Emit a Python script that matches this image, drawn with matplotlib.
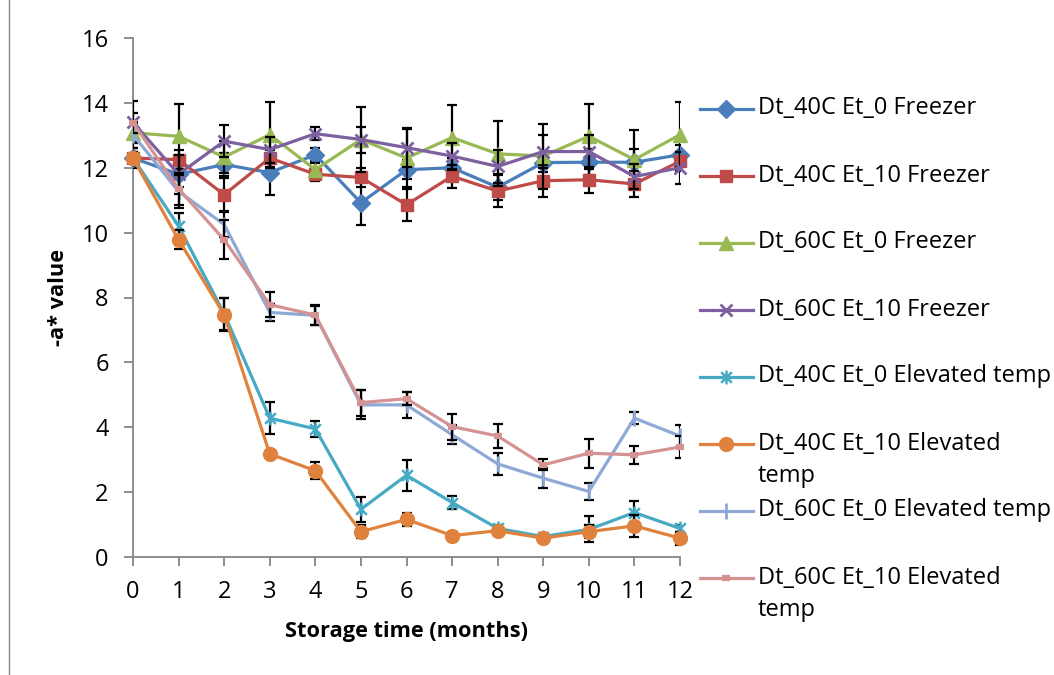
import matplotlib
matplotlib.use("Agg")
import matplotlib.pyplot as plt
from matplotlib.lines import Line2D
from matplotlib.path import Path

months = list(range(13))

labels = [
    "Dt_40C Et_0 Freezer",
    "Dt_40C Et_10 Freezer",
    "Dt_60C Et_0 Freezer",
    "Dt_60C Et_10 Freezer",
    "Dt_40C Et_0 Elevated temp",
    "Dt_40C Et_10 Elevated\ntemp",
    "Dt_60C Et_0 Elevated temp",
    "Dt_60C Et_10 Elevated\ntemp",
]

dt40_et0_frz = [12.3, 11.8, 12.1, 11.85, 12.4, 10.92, 11.94, 12.0, 11.4, 12.16, 12.17, 12.17, 12.4]
dt40_et10_frz = [12.3, 12.25, 11.17, 12.3, 11.8, 11.7, 10.86, 11.74, 11.28, 11.6, 11.63, 11.5, 12.2]
dt60_et0_frz = [13.08, 12.97, 12.33, 13.02, 11.94, 12.87, 12.3, 12.93, 12.43, 12.36, 12.97, 12.25, 13.02]
dt60_et10_frz = [13.4, 11.8, 12.82, 12.56, 13.05, 12.87, 12.62, 12.36, 12.04, 12.5, 12.5, 11.73, 12.0]
dt40_et0_elev = [12.3, 10.2, 7.5, 4.28, 3.95, 1.47, 2.52, 1.68, 0.88, 0.63, 0.85, 1.37, 0.88]
dt40_et10_elev = [12.3, 9.78, 7.47, 3.18, 2.66, 0.78, 1.16, 0.66, 0.81, 0.58, 0.78, 0.96, 0.58]
dt60_et0_elev = [13.02, 11.27, 10.25, 7.54, 7.45, 4.69, 4.69, 3.77, 2.87, 2.43, 2.02, 4.28, 3.73]
dt60_et10_elev = [13.38, 11.35, 9.78, 7.78, 7.46, 4.76, 4.88, 4.02, 3.73, 2.84, 3.2, 3.15, 3.39]

err40_et0_frz = [0.3, 0.4, 0.35, 0.7, 0.2, 0.7, 0.3, 0.3, 0.4, 0.3, 0.4, 0.4, 0.3]
err40_et10_frz = [0.2, 0.3, 0.5, 0.3, 0.2, 0.3, 0.5, 0.35, 0.5, 0.5, 0.4, 0.4, 0.3]
err60_et0_frz = [0.3, 1.0, 0.5, 1.0, 0.2, 1.0, 0.9, 1.0, 1.0, 1.0, 1.0, 0.9, 1.0]
err60_et10_frz = [0.65, 0.6, 0.5, 0.4, 0.2, 0.4, 0.6, 0.4, 0.5, 0.5, 0.5, 0.4, 0.5]
err40_et0_elev = [0.2, 0.4, 0.5, 0.5, 0.25, 0.38, 0.47, 0.2, 0.1, 0.1, 0.4, 0.35, 0.1]
err40_et10_elev = [0.2, 0.3, 0.5, 0.1, 0.27, 0.2, 0.2, 0.1, 0.1, 0.1, 0.2, 0.35, 0.2]
err60_et0_elev = [0.4, 0.5, 0.4, 0.25, 0.3, 0.45, 0.4, 0.3, 0.33, 0.3, 0.27, 0.18, 0.35]
err60_et10_elev = [0.3, 0.5, 0.6, 0.38, 0.3, 0.4, 0.2, 0.4, 0.37, 0.17, 0.45, 0.28, 0.35]

series = [dt40_et0_frz, dt40_et10_frz, dt60_et0_frz, dt60_et10_frz,
          dt40_et0_elev, dt40_et10_elev, dt60_et0_elev, dt60_et10_elev]
errors = [err40_et0_frz, err40_et10_frz, err60_et0_frz, err60_et10_frz,
          err40_et0_elev, err40_et10_elev, err60_et0_elev, err60_et10_elev]

# asterisk marker: X plus vertical stroke
ast = Path([(-1, -1), (1, 1), (-1, 1), (1, -1), (0, -1.3), (0, 1.3)],
           [Path.MOVETO, Path.LINETO, Path.MOVETO, Path.LINETO, Path.MOVETO, Path.LINETO])

colors = ["#4A7EBB", "#BE4B48", "#98B954", "#7D60A0", "#46AAC5", "#E0823D", "#8EA9D6", "#D49392"]
markers = ["D", "s", "^", "x", ast, "o", "|", "_"]
msizes = [9, 9, 10, 9, 10, 10, 11, 6]
mews = [1, 1, 1, 2, 1.8, 1, 2, 4.5]

plt.rcParams['font.family'] = ['Open Sans', 'DejaVu Sans']

W, H = 1054, 675
fig = plt.figure(figsize=(W / 100, H / 100), dpi=100)
ax = fig.add_axes([133 / W, 1 - 557 / H, 547 / W, 519 / H])

styles = []
for i, (s, e, c, m, ms, mw) in enumerate(zip(series, errors, colors, markers, msizes, mews)):
    z = 3 + i * 0.1
    ax.errorbar(months, s, yerr=e, fmt='none', ecolor='black', elinewidth=1.6,
                capsize=3.6, capthick=1.6, zorder=z)
    ax.plot(months, s, color=c, lw=2.3, marker=m, markersize=ms,
            markeredgewidth=mw, markeredgecolor=c, markerfacecolor=c, zorder=z + 0.05,
            clip_on=False)
    styles.append(dict(color=c, marker=m, markersize=ms, markeredgewidth=mw,
                       markeredgecolor=c, markerfacecolor=c))

ax.set_xlim(0, 12)
ax.set_ylim(0, 16)
ax.set_xticks(months)
ax.set_yticks(range(0, 17, 2))
ax.tick_params(axis='both', labelsize=17, color='#868686', direction='out', length=6.5, width=1.3)
ax.tick_params(axis='x', pad=10)
ax.tick_params(axis='y', pad=11)
for sp in ['top', 'right']:
    ax.spines[sp].set_visible(False)
for sp in ['left', 'bottom']:
    ax.spines[sp].set_color('#868686')
    ax.spines[sp].set_linewidth(1.3)
ax.set_xlabel("Storage time (months)", fontsize=15.7, fontweight='bold', va='center')
ax.xaxis.set_label_coords(0.5, (557 - 632) / 519)
ax.set_ylabel("-a* value", fontsize=15.7, fontweight='bold', va='center')
ax.yaxis.set_label_coords((58 - 133) / 547, 0.5)

# legend (manual layout to match the reference placement)
y0, dy, line_h = 108.5, 67.0, 33.0
for i, (lab, st) in enumerate(zip(labels, styles)):
    yp = y0 + dy * i
    yf = 1 - yp / H
    fig.add_artist(Line2D([700 / W, 753 / W], [yf, yf], transform=fig.transFigure,
                          color=st['color'], lw=2.3))
    fig.add_artist(Line2D([726 / W], [yf], transform=fig.transFigure, linestyle='none',
                          **st))
    for k, part in enumerate(lab.split("\n")):
        fig.text(758 / W, 1 - (yp + k * line_h) / H, part, fontsize=17,
                 ha='left', va='center')

fig.add_artist(Line2D([8.5 / W, 8.5 / W], [0, 1], transform=fig.transFigure,
                      color='#868686', lw=1))

fig.savefig("out.png", dpi=100)
